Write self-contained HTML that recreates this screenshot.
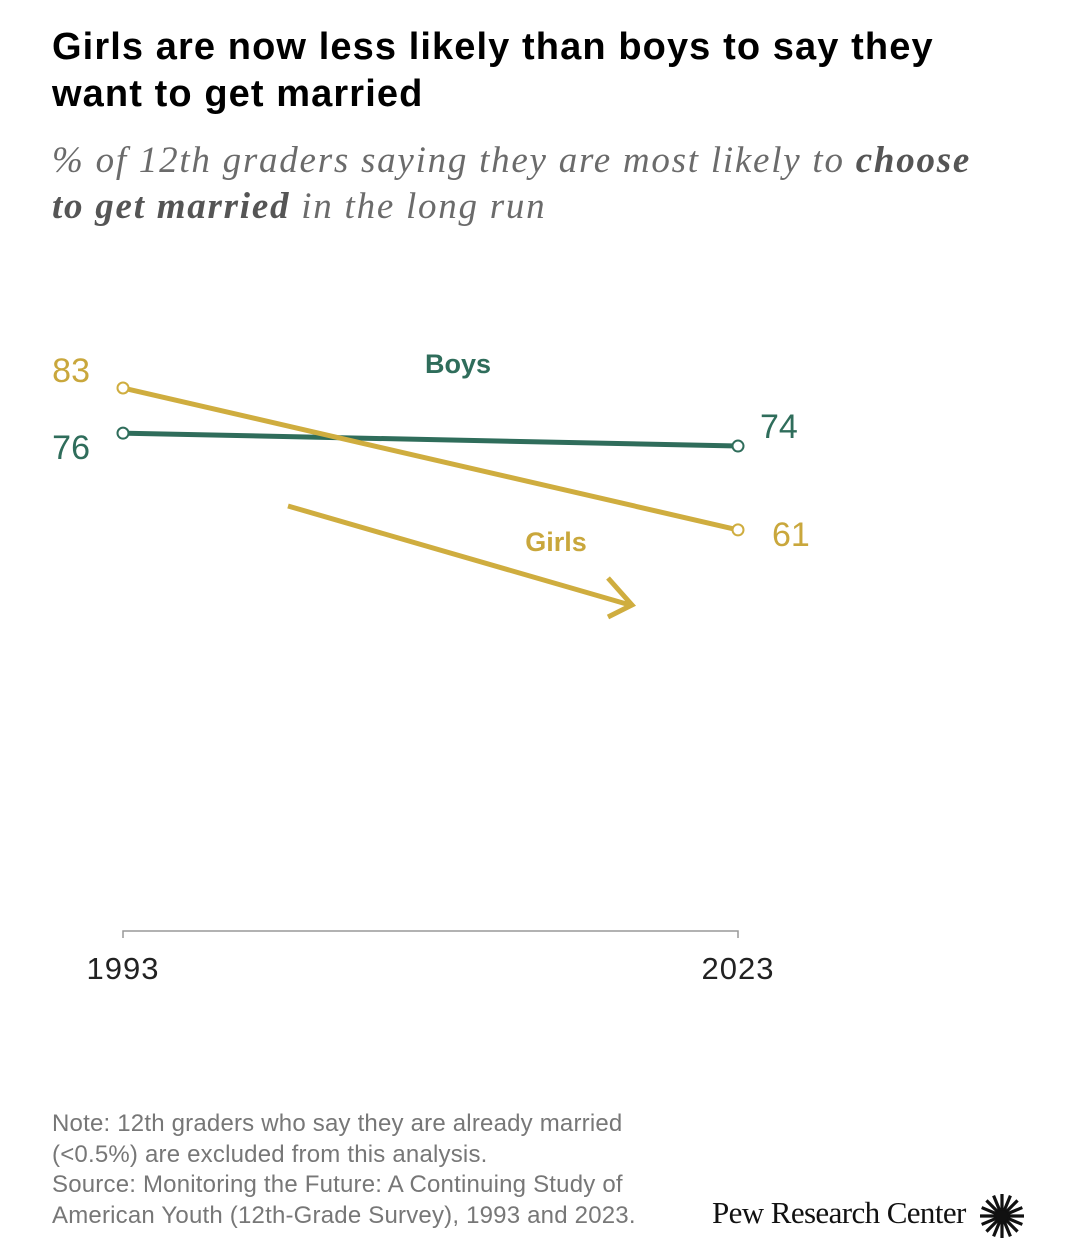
<!DOCTYPE html>
<html><head><meta charset="utf-8"><style>
body{margin:0;width:1080px;height:1258px;background:#fff;overflow:hidden;position:relative;font-family:"Liberation Sans",sans-serif}
.t{position:absolute;left:52px;top:24px;font-size:38px;font-weight:bold;line-height:47px;color:#000;margin:0;letter-spacing:1.1px}
.s{position:absolute;left:52px;top:138px;font-family:"Liberation Serif",serif;font-style:italic;font-size:37px;line-height:46px;color:#6b6b6b;margin:0;letter-spacing:1.75px}
.s b{color:#555}
.n{position:absolute;left:52px;top:1109px;font-size:24px;line-height:30.5px;color:#777;letter-spacing:0.2px}
.logo{position:absolute;left:712px;top:1195px;font-family:"Liberation Serif",serif;font-size:31px;color:#111;letter-spacing:-0.6px}
</style></head><body>
<h1 class="t">Girls are now less likely than boys to say they<br>want to get married</h1>
<p class="s">% of 12th graders saying they are most likely to <b>choose<br>to get married</b> in the long run</p>
<svg id="c" width="1080" height="1258" style="position:absolute;left:0;top:0"></svg>
<div class="n">Note: 12th graders who say they are already married<br>(&lt;0.5%) are excluded from this analysis.<br>Source: Monitoring the Future: A Continuing Study of<br>American Youth (12th-Grade Survey), 1993 and 2023.</div>
<div class="logo">Pew Research Center</div>
<svg style="position:absolute;left:978px;top:1192px" width="48" height="48" viewBox="-24 -24 48 48"><g id="sb"></g></svg>
<script>
const years=["1993","2023"];
const boys=[76,74];
const girls=[83,61];
const NS="http://www.w3.org/2000/svg";
const svg=document.getElementById('c');
const x=i=>123+i*615;
const y=v=>388+(83-v)*6.45;
function el(t,a,p){const e=document.createElementNS(NS,t);for(const k in a)e.setAttribute(k,a[k]);(p||svg).appendChild(e);return e;}
let ax=el('path',{d:`M${x(0)} 938V931H${x(1)}V938`,stroke:'#999','stroke-width':1.5,fill:'none'});


years.forEach((yr,i)=>{const t=el('text',{x:x(i),y:979,'text-anchor':'middle','font-size':31,'letter-spacing':1,fill:'#222'});t.textContent=yr;

});
function series(vals,col,name){
 const l=el('line',{x1:x(0),y1:y(vals[0]),x2:x(1),y2:y(vals[1]),stroke:col,'stroke-width':5});
 
 
 vals.forEach((v,i)=>{const c=el('circle',{cx:x(i),cy:y(v),r:5.5,fill:'#fff',stroke:col,'stroke-width':2});
 
 });
}
series(boys,'#2f6d5b','boys');
series(girls,'#cfad3f','girls');
function lab(txt,X,Y,col,anc,w,fs,n){const t=el('text',{x:X,y:Y,fill:col,'text-anchor':anc,'font-size':fs||34,'font-weight':w||'normal'});t.textContent=txt;

}
lab(girls[0],90,y(girls[0])-6,'#c9a73c','end',null,null,'girls-label-1993');
lab(boys[0],90,y(boys[0])+26,'#2f6d5b','end',null,null,'boys-label-1993');
lab(boys[1],760,y(boys[1])-8,'#2f6d5b','start',null,null,'boys-label-2023');
lab(girls[1],772,y(girls[1])+16,'#c9a73c','start',null,null,'girls-label-2023');
lab('Boys',458,373,'#2f6d5b','middle','bold',27,'boys-legend');
lab('Girls',556,551,'#c9a73c','middle','bold',27,'girls-legend');
let ar=el('path',{d:'M288 506L630 605M608 578L632 605L608 617',stroke:'#cfad3f','stroke-width':5,fill:'none'});


const g=document.getElementById('sb');
for(let k=0;k<16;k++){const a=k*Math.PI/8;const r=document.createElementNS(NS,'line');
r.setAttribute('x1',5*Math.cos(a));r.setAttribute('y1',5*Math.sin(a));r.setAttribute('x2',22*Math.cos(a));r.setAttribute('y2',22*Math.sin(a));
r.setAttribute('stroke','#111');r.setAttribute('stroke-width',3.2);g.appendChild(r);}
const cc=document.createElementNS(NS,'circle');cc.setAttribute('r',6);cc.setAttribute('fill','#111');g.appendChild(cc);
</script>
</body></html>
